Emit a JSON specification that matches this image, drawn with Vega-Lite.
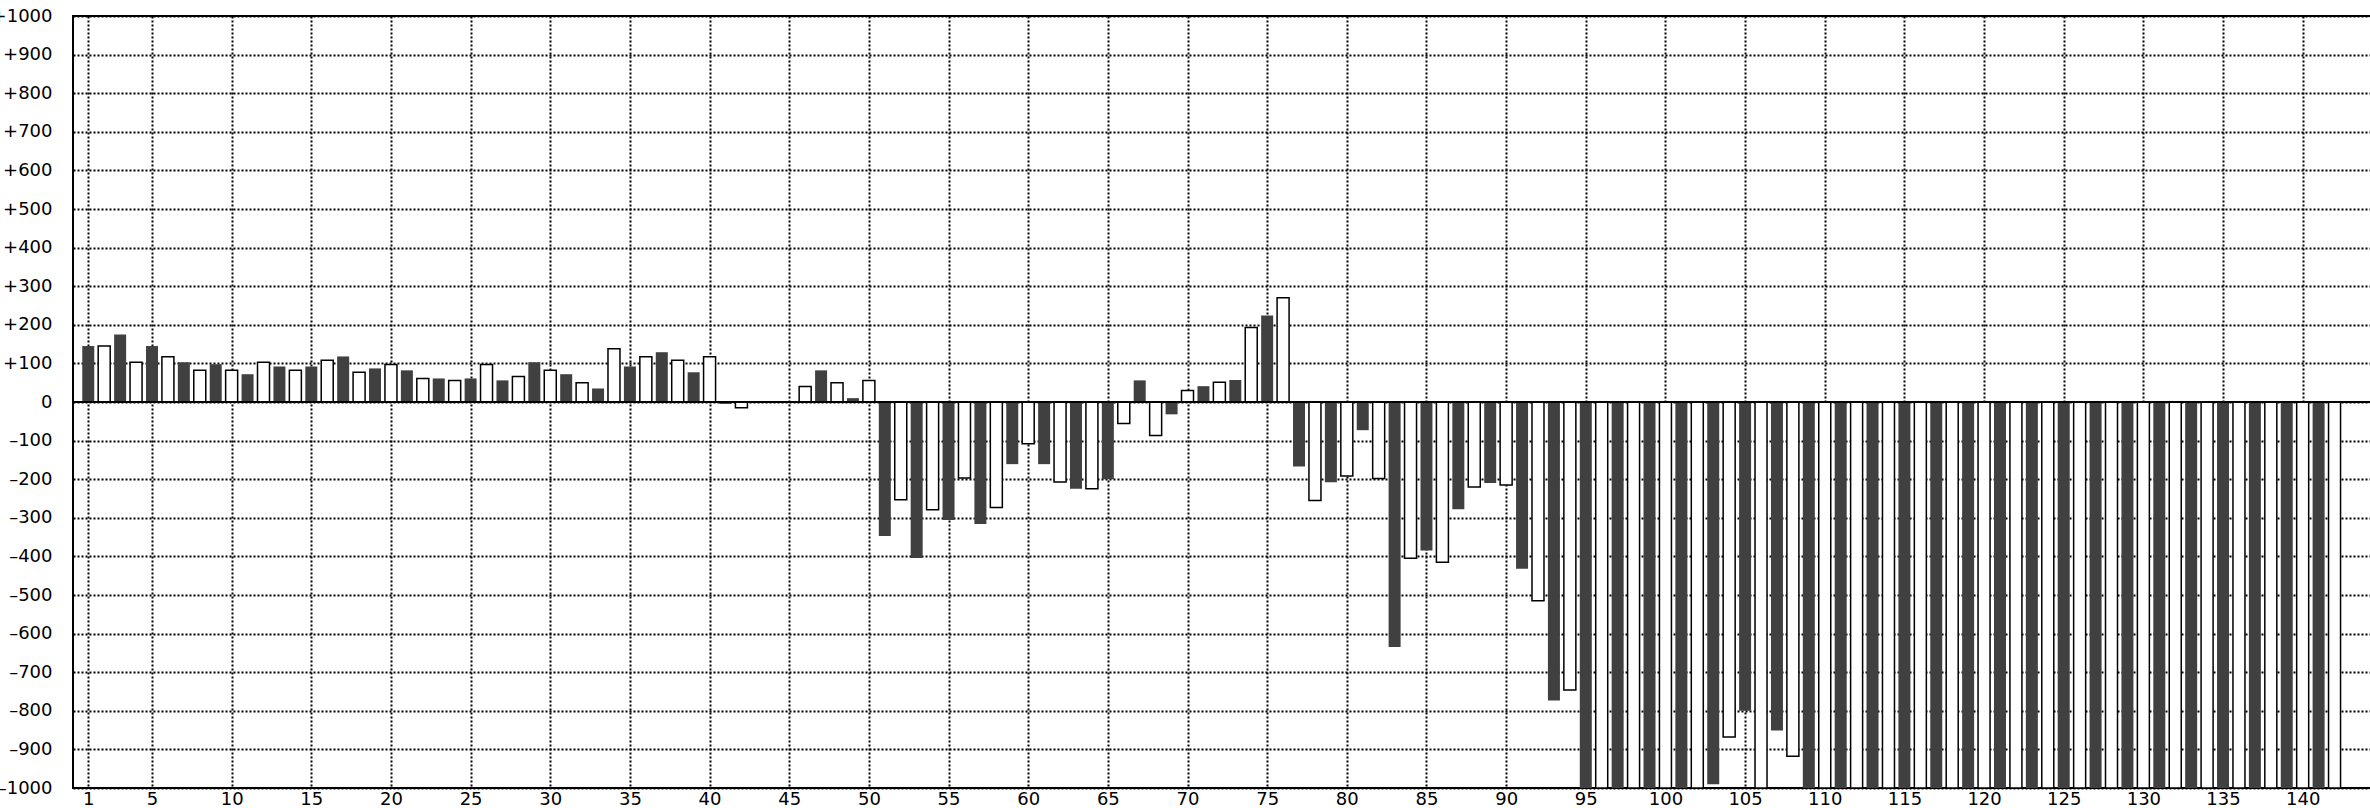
{
  "$schema": "https://vega.github.io/schema/vega-lite/v6.json",
  "width": 2300,
  "height": 772,
  "autosize": {"type": "none"},
  "padding": {"left": 73, "top": 16, "right": 0, "bottom": 20},
  "background": "white",
  "config": {
    "view": {"stroke": "black", "strokeWidth": 2},
    "font": "DejaVu Sans",
    "axis": {"grid": true, "gridColor": "black", "gridDash": [2, 2], "gridWidth": 2, "gridOpacity": 1, "domain": false, "ticks": false, "labelFont": "DejaVu Sans", "labelFontSize": 18, "labelColor": "black", "labelOverlap": false, "title": null}
  },
  "data": {
    "values": [
      {"i":1,"v":145,"s":"A"},{"i":2,"v":145,"s":"B"},{"i":3,"v":175,"s":"A"},{"i":4,"v":103,"s":"B"},{"i":5,"v":145,"s":"A"},
      {"i":6,"v":117,"s":"B"},{"i":7,"v":103,"s":"A"},{"i":8,"v":82,"s":"B"},{"i":9,"v":98,"s":"A"},{"i":10,"v":82,"s":"B"},
      {"i":11,"v":72,"s":"A"},{"i":12,"v":103,"s":"B"},{"i":13,"v":92,"s":"A"},{"i":14,"v":82,"s":"B"},{"i":15,"v":92,"s":"A"},
      {"i":16,"v":108,"s":"B"},{"i":17,"v":118,"s":"A"},{"i":18,"v":77,"s":"B"},{"i":19,"v":87,"s":"A"},{"i":20,"v":97,"s":"B"},
      {"i":21,"v":82,"s":"A"},{"i":22,"v":61,"s":"B"},{"i":23,"v":61,"s":"A"},{"i":24,"v":56,"s":"B"},{"i":25,"v":61,"s":"A"},
      {"i":26,"v":97,"s":"B"},{"i":27,"v":56,"s":"A"},{"i":28,"v":66,"s":"B"},{"i":29,"v":103,"s":"A"},{"i":30,"v":82,"s":"B"},
      {"i":31,"v":72,"s":"A"},{"i":32,"v":50,"s":"B"},{"i":33,"v":35,"s":"A"},{"i":34,"v":138,"s":"B"},{"i":35,"v":92,"s":"A"},
      {"i":36,"v":117,"s":"B"},{"i":37,"v":129,"s":"A"},{"i":38,"v":108,"s":"B"},{"i":39,"v":77,"s":"A"},{"i":40,"v":117,"s":"B"},
      {"i":41,"v":-5,"s":"A"},{"i":42,"v":-15,"s":"B"},
      {"i":46,"v":40,"s":"B"},{"i":47,"v":82,"s":"A"},{"i":48,"v":50,"s":"B"},{"i":49,"v":10,"s":"A"},{"i":50,"v":56,"s":"B"},
      {"i":51,"v":-347,"s":"A"},{"i":52,"v":-253,"s":"B"},{"i":53,"v":-404,"s":"A"},{"i":54,"v":-279,"s":"B"},{"i":55,"v":-306,"s":"A"},
      {"i":56,"v":-197,"s":"B"},{"i":57,"v":-316,"s":"A"},{"i":58,"v":-273,"s":"B"},{"i":59,"v":-161,"s":"A"},{"i":60,"v":-108,"s":"B"},
      {"i":61,"v":-161,"s":"A"},{"i":62,"v":-207,"s":"B"},{"i":63,"v":-225,"s":"A"},{"i":64,"v":-225,"s":"B"},{"i":65,"v":-200,"s":"A"},
      {"i":66,"v":-56,"s":"B"},{"i":67,"v":56,"s":"A"},{"i":68,"v":-87,"s":"B"},{"i":69,"v":-32,"s":"A"},{"i":70,"v":30,"s":"B"},
      {"i":71,"v":41,"s":"A"},{"i":72,"v":51,"s":"B"},{"i":73,"v":57,"s":"A"},{"i":74,"v":193,"s":"B"},{"i":75,"v":224,"s":"A"},
      {"i":76,"v":270,"s":"B"},{"i":77,"v":-167,"s":"A"},{"i":78,"v":-255,"s":"B"},{"i":79,"v":-208,"s":"A"},{"i":80,"v":-192,"s":"B"},
      {"i":81,"v":-73,"s":"A"},{"i":82,"v":-198,"s":"B"},{"i":83,"v":-635,"s":"A"},{"i":84,"v":-405,"s":"B"},{"i":85,"v":-385,"s":"A"},
      {"i":86,"v":-415,"s":"B"},{"i":87,"v":-278,"s":"A"},{"i":88,"v":-220,"s":"B"},{"i":89,"v":-210,"s":"A"},{"i":90,"v":-215,"s":"B"},
      {"i":91,"v":-432,"s":"A"},{"i":92,"v":-515,"s":"B"},{"i":93,"v":-773,"s":"A"},{"i":94,"v":-746,"s":"B"},{"i":95,"v":-1000,"s":"A"},
      {"i":96,"v":-1000,"s":"B"},{"i":97,"v":-1000,"s":"A"},{"i":98,"v":-1000,"s":"B"},{"i":99,"v":-1000,"s":"A"},{"i":100,"v":-1000,"s":"B"},
      {"i":101,"v":-1000,"s":"A"},{"i":102,"v":-1000,"s":"B"},{"i":103,"v":-990,"s":"A"},{"i":104,"v":-868,"s":"B"},{"i":105,"v":-800,"s":"A"},
      {"i":106,"v":-1000,"s":"B"},{"i":107,"v":-851,"s":"A"},{"i":108,"v":-918,"s":"B"},{"i":109,"v":-1000,"s":"A"},{"i":110,"v":-1000,"s":"B"},
      {"i":111,"v":-1000,"s":"A"},{"i":112,"v":-1000,"s":"B"},{"i":113,"v":-1000,"s":"A"},{"i":114,"v":-1000,"s":"B"},{"i":115,"v":-1000,"s":"A"},
      {"i":116,"v":-1000,"s":"B"},{"i":117,"v":-1000,"s":"A"},{"i":118,"v":-1000,"s":"B"},{"i":119,"v":-1000,"s":"A"},{"i":120,"v":-1000,"s":"B"},
      {"i":121,"v":-1000,"s":"A"},{"i":122,"v":-1000,"s":"B"},{"i":123,"v":-1000,"s":"A"},{"i":124,"v":-1000,"s":"B"},{"i":125,"v":-1000,"s":"A"},
      {"i":126,"v":-1000,"s":"B"},{"i":127,"v":-1000,"s":"A"},{"i":128,"v":-1000,"s":"B"},{"i":129,"v":-1000,"s":"A"},{"i":130,"v":-1000,"s":"B"},
      {"i":131,"v":-1000,"s":"A"},{"i":132,"v":-1000,"s":"B"},{"i":133,"v":-1000,"s":"A"},{"i":134,"v":-1000,"s":"B"},{"i":135,"v":-1000,"s":"A"},
      {"i":136,"v":-1000,"s":"B"},{"i":137,"v":-1000,"s":"A"},{"i":138,"v":-1000,"s":"B"},{"i":139,"v":-1000,"s":"A"},{"i":140,"v":-1000,"s":"B"},
      {"i":141,"v":-1000,"s":"A"},{"i":142,"v":-1000,"s":"B"}
    ]
  },
  "layer": [
    {
      "transform": [{"filter": "datum.s === 'A'"}],
      "mark": {"type": "bar", "width": 12, "fill": "#404040", "clip": true},
      "encoding": {
        "x": {"field": "i", "type": "quantitative", "scale": {"domain": [0.356, 144.1], "nice": false, "zero": false},
              "axis": {"values": [1,5,10,15,20,25,30,35,40,45,50,55,60,65,70,75,80,85,90,95,100,105,110,115,120,125,130,135,140], "labelPadding": 2, "labelAngle": 0, "labelFlush": false}},
        "y": {"field": "v", "type": "quantitative", "scale": {"domain": [-1000, 1000], "nice": false},
              "axis": {"values": [-1000,-900,-800,-700,-600,-500,-400,-300,-200,-100,0,100,200,300,400,500,600,700,800,900,1000], "tickCount": 21, "labelPadding": 21, "labelExpr": "datum.value > 0 ? '+' + datum.value : (datum.value < 0 ? '–' + abs(datum.value) : '0')"}}
      }
    },
    {
      "transform": [{"filter": "datum.s === 'B'"}],
      "mark": {"type": "bar", "width": 12, "fill": "white", "stroke": "black", "strokeWidth": 1.5, "clip": true},
      "encoding": {
        "x": {"field": "i", "type": "quantitative",
              "axis": {"values": [1,5,10,15,20,25,30,35,40,45,50,55,60,65,70,75,80,85,90,95,100,105,110,115,120,125,130,135,140], "labelPadding": 2, "labelAngle": 0, "labelFlush": false}},
        "y": {"field": "v", "type": "quantitative",
              "axis": {"values": [-1000,-900,-800,-700,-600,-500,-400,-300,-200,-100,0,100,200,300,400,500,600,700,800,900,1000], "tickCount": 21, "labelPadding": 21, "labelExpr": "datum.value > 0 ? '+' + datum.value : (datum.value < 0 ? '–' + abs(datum.value) : '0')"}}
      }
    },
    {
      "mark": {"type": "rule", "color": "black", "strokeWidth": 2},
      "encoding": {"y": {"datum": 0, "type": "quantitative",
              "axis": {"values": [-1000,-900,-800,-700,-600,-500,-400,-300,-200,-100,0,100,200,300,400,500,600,700,800,900,1000], "tickCount": 21, "labelPadding": 21, "labelExpr": "datum.value > 0 ? '+' + datum.value : (datum.value < 0 ? '–' + abs(datum.value) : '0')"}}}
    }
  ]
}
